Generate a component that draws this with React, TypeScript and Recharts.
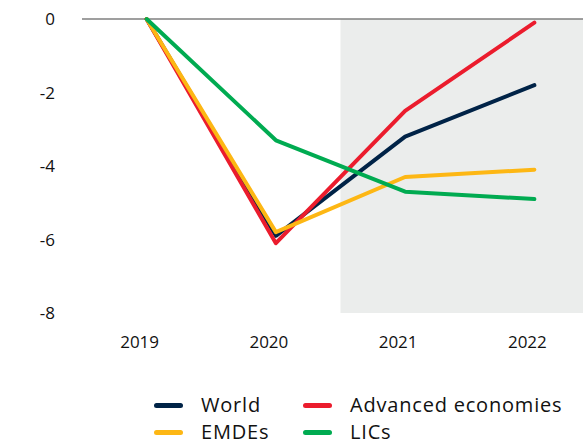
import React from "react";
import { LineChart, Line, XAxis, YAxis, ReferenceArea, ReferenceLine } from "recharts";

const years = [2019, 2020, 2021, 2022];
const world = [0, -5.9, -3.2, -1.8];
const advanced = [0, -6.1, -2.5, -0.1];
const emdes = [0, -5.8, -4.3, -4.1];
const lics = [0, -3.3, -4.7, -4.9];
const yTicks = [0, -2, -4, -6, -8];

const seriesInfo = [
  { key: "world", name: "World", color: "#002347" },
  { key: "advanced", name: "Advanced economies", color: "#EB1C2D" },
  { key: "emdes", name: "EMDEs", color: "#FDB714" },
  { key: "lics", name: "LICs", color: "#00AB51" },
];

const data = years.map((y, i) => ({
  year: y,
  world: world[i],
  advanced: advanced[i],
  emdes: emdes[i],
  lics: lics[i],
}));

const font = "'Open Sans', 'Liberation Sans', sans-serif";

function LegendItem({ name, color, left, center }: { name: string; color: string; left: number; center: number }) {
  return (
    <div style={{ position: "absolute", left, top: center - 10, height: 20, display: "flex", alignItems: "center" }}>
      <div style={{ width: 29, height: 5, borderRadius: 3, background: color, marginRight: 18 }} />
      <span style={{ fontFamily: font, fontSize: 20, lineHeight: "20px", color: "#111", whiteSpace: "nowrap", letterSpacing: 0.8 }}>{name}</span>
    </div>
  );
}

export default function App() {
  return (
    <div style={{ position: "absolute", left: 0, top: 0, width: 583, height: 446, overflow: "hidden", background: "#fff" }}>
      <LineChart width={600} height={446} data={data} margin={{ top: 19, right: 1, bottom: 103, left: 0 }}>
        <ReferenceArea x1={2020.5} x2={2022.5} y1={-8} y2={0} fill="#EBEDEC" fillOpacity={1} stroke="none" ifOverflow="visible" />
        <XAxis
          dataKey="year"
          type="number"
          domain={[2018.5, 2022.5]}
          ticks={years}
          axisLine={false}
          tickLine={false}
          tickSize={0}
          tickMargin={23}
          height={30}
          tick={{ fontFamily: font, fontSize: 17, fill: "#111", dx: -7 }}
        />
        <YAxis
          type="number"
          domain={[-8, 0]}
          ticks={yTicks}
          axisLine={false}
          tickLine={false}
          tickSize={0}
          tickMargin={27}
          width={82}
          tick={{ fontFamily: font, fontSize: 17, fill: "#111" }}
        />
        <ReferenceLine y={0} stroke="#7F7F7F" strokeWidth={1.5} ifOverflow="visible" />
        {seriesInfo.map((s) => (
          <Line
            key={s.key}
            dataKey={s.key}
            name={s.name}
            stroke={s.color}
            strokeWidth={4}
            dot={false}
            activeDot={false}
            strokeLinecap="round"
            strokeLinejoin="round"
            isAnimationActive={false}
          />
        ))}
      </LineChart>
      <LegendItem name={seriesInfo[0].name} color={seriesInfo[0].color} left={154} center={405} />
      <LegendItem name={seriesInfo[2].name} color={seriesInfo[2].color} left={154} center={432} />
      <LegendItem name={seriesInfo[1].name} color={seriesInfo[1].color} left={303} center={405} />
      <LegendItem name={seriesInfo[3].name} color={seriesInfo[3].color} left={303} center={432} />
    </div>
  );
}
